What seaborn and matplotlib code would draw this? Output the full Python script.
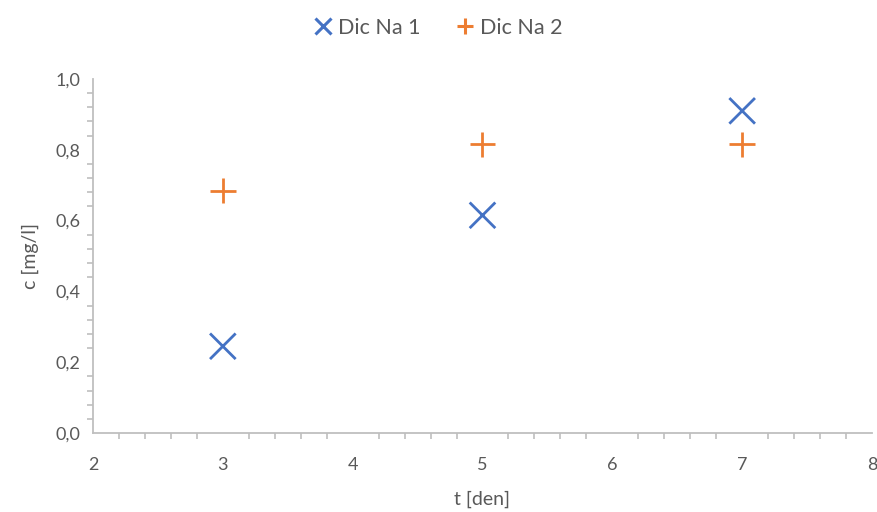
import matplotlib
matplotlib.use("Agg")
import matplotlib.pyplot as plt
import seaborn as sns
import pandas as pd
from matplotlib.ticker import MultipleLocator, FuncFormatter

days = [3, 5, 7]
dic_na_1 = [0.245, 0.615, 0.91]
dic_na_2 = [0.685, 0.815, 0.815]
series_names = ["Dic Na 1", "Dic Na 2"]

df = pd.DataFrame({
    "t": days * 2,
    "c": dic_na_1 + dic_na_2,
    "series": [series_names[0]] * len(days) + [series_names[1]] * len(days),
})

sns.set_theme(style="white")
plt.rcParams["font.family"] = ["Lato", "DejaVu Sans"]

text_color = "#595959"
axis_color = "#BFBFBF"
palette = {"Dic Na 1": "#4472C4", "Dic Na 2": "#ED7D31"}
markers = {"Dic Na 1": "x", "Dic Na 2": "+"}

fig = plt.figure(figsize=(8.77, 5.12), dpi=100)
ax = fig.add_axes([93 / 877, 1 - 433 / 512, (872 - 93) / 877, (433 - 79) / 512])

sns.scatterplot(data=df, x="t", y="c", hue="series", style="series",
                palette=palette, markers=markers, s=340, linewidth=2.0,
                ax=ax, legend=False)

ax.set_xlim(2, 8)
ax.set_ylim(0, 1.0)
ax.xaxis.set_major_locator(MultipleLocator(1))
ax.xaxis.set_minor_locator(MultipleLocator(0.2))
ax.yaxis.set_major_locator(MultipleLocator(0.2))
ax.yaxis.set_minor_locator(MultipleLocator(0.04))
ax.yaxis.set_major_formatter(FuncFormatter(lambda v, p: f"{v:.1f}".replace(".", ",")))
ax.xaxis.set_major_formatter(FuncFormatter(lambda v, p: f"{v:.0f}"))

for side in ["top", "right"]:
    ax.spines[side].set_visible(False)
for side in ["left", "bottom"]:
    ax.spines[side].set_color(axis_color)
    ax.spines[side].set_linewidth(1.3)

ax.tick_params(axis="both", which="major", direction="inout", length=10, width=1.3,
               color=axis_color, labelcolor=text_color, labelsize=13)
ax.tick_params(axis="x", which="major", pad=12)
ax.tick_params(axis="y", which="major", pad=4)
ax.tick_params(axis="both", which="minor", direction="out", length=4, width=1.2,
               color=axis_color)
ax.tick_params(axis="x", which="minor", bottom=True)
ax.tick_params(axis="y", which="minor", left=True)

ax.set_xlabel("t [den]", color=text_color, fontsize=14, labelpad=13)
ax.set_ylabel("c [mg/l]", color=text_color, fontsize=14, labelpad=12)

handles = [
    plt.Line2D([], [], linestyle="none", marker=markers[n], color=palette[n],
               markersize=11, markeredgewidth=2.2, label=n)
    for n in series_names
]
fig.legend(handles=handles, loc="center", bbox_to_anchor=(0.5, 1 - 28 / 512),
           ncol=2, frameon=False, fontsize=15.5, labelcolor=text_color,
           handlelength=0.8, handletextpad=0.3, columnspacing=1.7)

fig.savefig("out.png", dpi=100)
